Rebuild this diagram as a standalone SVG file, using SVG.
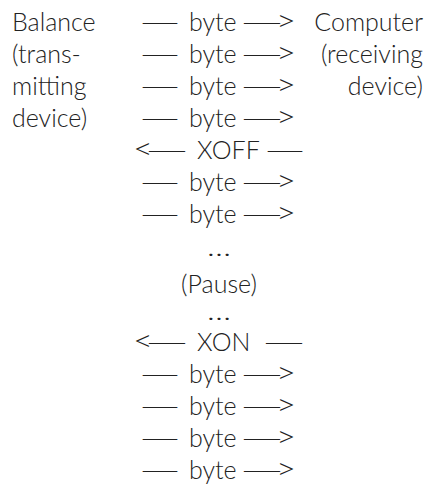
<svg xmlns="http://www.w3.org/2000/svg" width="425" height="484" viewBox="0 0 425 484">
<defs>
<style>
text{font-family:Lato,"Liberation Sans",sans-serif;font-weight:300;font-size:25px;fill:#222}
.m{text-anchor:middle}
.r{text-anchor:end}
.a{font-size:30px}
</style>
</defs>
<rect width="425" height="484" fill="#fff"/>
<g id="balance">
<text x="12" y="31">Balance</text>
<text x="12" y="63">(trans-</text>
<text x="12" y="95">mitting</text>
<text x="12" y="127">device)</text>
</g>
<g id="computer">
<text x="423" y="31" class="r">Computer</text>
<text x="423" y="63" class="r">(receiving</text>
<text x="423" y="95" class="r">device)</text>
</g>
<g id="connectors">
<text y="31"><tspan x="139" textLength="42" lengthAdjust="spacingAndGlyphs">—</tspan><tspan x="189">byte</tspan><tspan x="240" textLength="44" lengthAdjust="spacingAndGlyphs">—</tspan><tspan x="276" class="a" textLength="20" lengthAdjust="spacingAndGlyphs">&gt;</tspan></text>
<text y="63"><tspan x="139" textLength="42" lengthAdjust="spacingAndGlyphs">—</tspan><tspan x="189">byte</tspan><tspan x="240" textLength="44" lengthAdjust="spacingAndGlyphs">—</tspan><tspan x="276" class="a" textLength="20" lengthAdjust="spacingAndGlyphs">&gt;</tspan></text>
<text y="95"><tspan x="139" textLength="42" lengthAdjust="spacingAndGlyphs">—</tspan><tspan x="189">byte</tspan><tspan x="240" textLength="44" lengthAdjust="spacingAndGlyphs">—</tspan><tspan x="276" class="a" textLength="20" lengthAdjust="spacingAndGlyphs">&gt;</tspan></text>
<text y="127"><tspan x="139" textLength="42" lengthAdjust="spacingAndGlyphs">—</tspan><tspan x="189">byte</tspan><tspan x="240" textLength="44" lengthAdjust="spacingAndGlyphs">—</tspan><tspan x="276" class="a" textLength="20" lengthAdjust="spacingAndGlyphs">&gt;</tspan></text>
<text y="159"><tspan x="133" class="a" textLength="20" lengthAdjust="spacingAndGlyphs">&lt;</tspan><tspan x="145" textLength="44" lengthAdjust="spacingAndGlyphs">—</tspan><tspan x="197">XOFF</tspan><tspan x="264" textLength="42" lengthAdjust="spacingAndGlyphs">—</tspan></text>
<text y="191"><tspan x="139" textLength="42" lengthAdjust="spacingAndGlyphs">—</tspan><tspan x="189">byte</tspan><tspan x="240" textLength="44" lengthAdjust="spacingAndGlyphs">—</tspan><tspan x="276" class="a" textLength="20" lengthAdjust="spacingAndGlyphs">&gt;</tspan></text>
<text y="223"><tspan x="139" textLength="42" lengthAdjust="spacingAndGlyphs">—</tspan><tspan x="189">byte</tspan><tspan x="240" textLength="44" lengthAdjust="spacingAndGlyphs">—</tspan><tspan x="276" class="a" textLength="20" lengthAdjust="spacingAndGlyphs">&gt;</tspan></text>
<text x="207" y="256" textLength="24" lengthAdjust="spacingAndGlyphs">…</text>
<text x="219" y="293" class="m">(Pause)</text>
<text x="207" y="320" textLength="24" lengthAdjust="spacingAndGlyphs">…</text>
<text y="351"><tspan x="133" class="a" textLength="20" lengthAdjust="spacingAndGlyphs">&lt;</tspan><tspan x="145" textLength="44" lengthAdjust="spacingAndGlyphs">—</tspan><tspan x="197">XON</tspan><tspan x="262" textLength="44" lengthAdjust="spacingAndGlyphs">—</tspan></text>
<text y="383"><tspan x="139" textLength="42" lengthAdjust="spacingAndGlyphs">—</tspan><tspan x="189">byte</tspan><tspan x="240" textLength="44" lengthAdjust="spacingAndGlyphs">—</tspan><tspan x="276" class="a" textLength="20" lengthAdjust="spacingAndGlyphs">&gt;</tspan></text>
<text y="415"><tspan x="139" textLength="42" lengthAdjust="spacingAndGlyphs">—</tspan><tspan x="189">byte</tspan><tspan x="240" textLength="44" lengthAdjust="spacingAndGlyphs">—</tspan><tspan x="276" class="a" textLength="20" lengthAdjust="spacingAndGlyphs">&gt;</tspan></text>
<text y="447"><tspan x="139" textLength="42" lengthAdjust="spacingAndGlyphs">—</tspan><tspan x="189">byte</tspan><tspan x="240" textLength="44" lengthAdjust="spacingAndGlyphs">—</tspan><tspan x="276" class="a" textLength="20" lengthAdjust="spacingAndGlyphs">&gt;</tspan></text>
<text y="479"><tspan x="139" textLength="42" lengthAdjust="spacingAndGlyphs">—</tspan><tspan x="189">byte</tspan><tspan x="240" textLength="44" lengthAdjust="spacingAndGlyphs">—</tspan><tspan x="276" class="a" textLength="20" lengthAdjust="spacingAndGlyphs">&gt;</tspan></text>
</g>
</svg>
